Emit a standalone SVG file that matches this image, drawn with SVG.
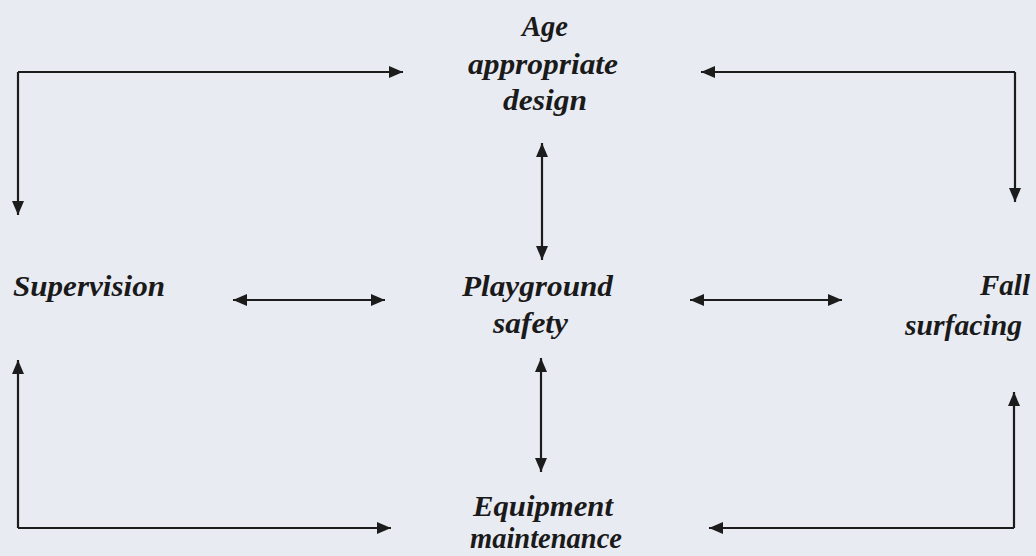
<svg xmlns="http://www.w3.org/2000/svg" width="1036" height="556" viewBox="0 0 1036 556">
  <defs>
    <marker id="ah" markerUnits="userSpaceOnUse" markerWidth="16" markerHeight="14" refX="14" refY="7" orient="auto-start-reverse">
      <path d="M0,1 L14,7 L0,13 Z" fill="#1c1c1c"/>
    </marker>
  </defs>
  <style>
    .lbl { font-family: "Liberation Serif", "Times New Roman", serif; font-weight: bold; font-style: italic; font-size: 30px; fill: #1a1a1a; }
    .ln { fill: none; stroke: #1c1c1c; stroke-width: 2.2; }
  </style>
  <rect x="0" y="0" width="1036" height="556" fill="#e9ebf3"/>

  <g id="node-age">
    <text class="lbl" x="522" y="36" textLength="46" lengthAdjust="spacingAndGlyphs">Age</text>
    <text class="lbl" x="468" y="74" textLength="150" lengthAdjust="spacingAndGlyphs">appropriate</text>
    <text class="lbl" x="503" y="110" textLength="84" lengthAdjust="spacingAndGlyphs">design</text>
  </g>
  <g id="node-supervision">
    <text class="lbl" x="13" y="296" textLength="152" lengthAdjust="spacingAndGlyphs">Supervision</text>
  </g>
  <g id="node-playground">
    <text class="lbl" x="462" y="296" textLength="151" lengthAdjust="spacingAndGlyphs">Playground</text>
    <text class="lbl" x="493" y="333" textLength="75" lengthAdjust="spacingAndGlyphs">safety</text>
  </g>
  <g id="node-fall">
    <text class="lbl" x="980" y="295" textLength="50" lengthAdjust="spacingAndGlyphs">Fall</text>
    <text class="lbl" x="905" y="335" textLength="117" lengthAdjust="spacingAndGlyphs">surfacing</text>
  </g>
  <g id="node-equipment">
    <text class="lbl" x="473" y="516" textLength="140" lengthAdjust="spacingAndGlyphs">Equipment</text>
    <text class="lbl" x="470" y="548" font-size="28" textLength="152" lengthAdjust="spacingAndGlyphs">maintenance</text>
  </g>

  <g id="connectors">
    <path class="ln" d="M18,72 H403" marker-end="url(#ah)"/>
    <path class="ln" d="M18,72 V215" marker-end="url(#ah)"/>
    <path class="ln" d="M1015,72 H701" marker-end="url(#ah)"/>
    <path class="ln" d="M1015,72 V202" marker-end="url(#ah)"/>
    <path class="ln" d="M542,143 V260" marker-start="url(#ah)" marker-end="url(#ah)"/>
    <path class="ln" d="M233,300 H385" marker-start="url(#ah)" marker-end="url(#ah)"/>
    <path class="ln" d="M690,300 H842" marker-start="url(#ah)" marker-end="url(#ah)"/>
    <path class="ln" d="M541,358 V472" marker-start="url(#ah)" marker-end="url(#ah)"/>
    <path class="ln" d="M18,528 V360" marker-end="url(#ah)"/>
    <path class="ln" d="M18,528 H391" marker-end="url(#ah)"/>
    <path class="ln" d="M1014,528 V392" marker-end="url(#ah)"/>
    <path class="ln" d="M1014,528 H709" marker-end="url(#ah)"/>
  </g>
</svg>
